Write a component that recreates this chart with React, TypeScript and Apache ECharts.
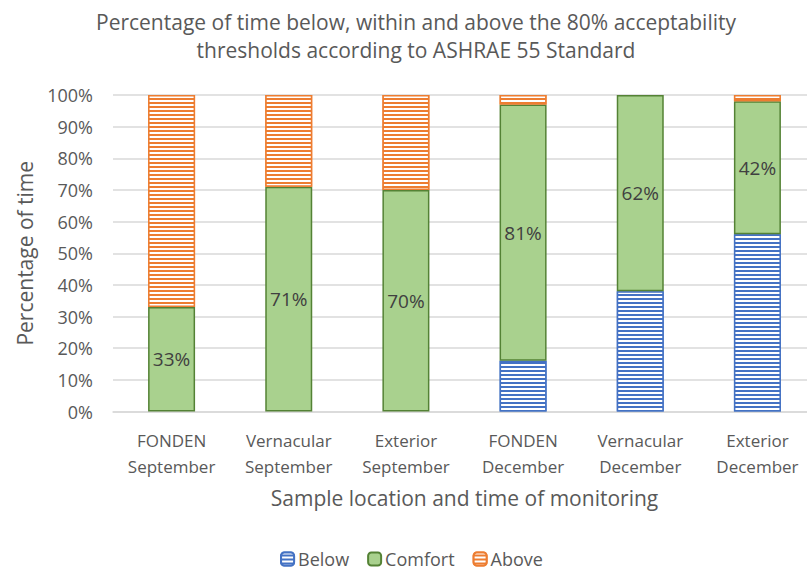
import React, { useEffect, useRef } from "react";
import * as echarts from "echarts";

// Sampling sites and monitoring periods
const categories = [
  "FONDEN\nSeptember",
  "Vernacular\nSeptember",
  "Exterior\nSeptember",
  "FONDEN\nDecember",
  "Vernacular\nDecember",
  "Exterior\nDecember",
];

// Share of time (%) below, within and above the 80% acceptability limits
const below = [null, null, null, 16, 38, 56];
const comfort = [33, 71, 70, 81, 62, 42];
const above = [67, 29, 30, 3, null, 2];

const yTicks = [0, 10, 20, 30, 40, 50, 60, 70, 80, 90, 100];

const FONT = "'Open Sans', sans-serif";
const TEXT = "#595959";

// Horizontal white stripes laid over the base fill
const stripes = {
  symbol: "rect",
  symbolSize: 1,
  color: "#ffffff",
  dashArrayX: [20, 0],
  dashArrayY: [2, 2],
  rotation: 0,
};

export default function App() {
  const ref = useRef<HTMLDivElement>(null);

  useEffect(() => {
    if (!ref.current) return;
    const chart = echarts.init(ref.current, undefined, { renderer: "svg" });
    chart.setOption({
      animation: false,
      backgroundColor: "#ffffff",
      textStyle: { fontFamily: FONT },
      title: {
        text: "Percentage of time below, within and above the 80% acceptability\nthresholds according to ASHRAE 55 Standard",
        left: 411,
        top: 3,
        textAlign: "center",
        textStyle: {
          fontFamily: FONT,
          fontSize: 21,
          fontWeight: "normal",
          color: TEXT,
          lineHeight: 28,
        },
      },
      legend: {
        top: 550,
        left: "center",
        padding: 0,
        itemWidth: 13,
        itemHeight: 13,
        itemGap: 18,
        textStyle: { fontFamily: FONT, fontSize: 18, color: TEXT, padding: [0, 0, 0, -1] },
        data: ["Below", "Comfort", "Above"],
      },
      grid: { left: 113, right: 7, top: 95, bottom: 161.5 },
      xAxis: {
        type: "category",
        data: categories,
        name: "Sample location and time of monitoring",
        nameLocation: "middle",
        nameGap: 76,
        nameTextStyle: { fontFamily: FONT, fontSize: 21, color: TEXT },
        axisLine: { lineStyle: { color: "#d9d9d9", width: 1.5 } },
        axisTick: { show: false },
        axisLabel: {
          interval: 0,
          fontFamily: FONT,
          fontSize: 17,
          color: TEXT,
          lineHeight: 26,
          margin: 16,
        },
      },
      yAxis: {
        type: "value",
        min: yTicks[0],
        max: yTicks[yTicks.length - 1],
        interval: 10,
        name: "Percentage of time",
        nameLocation: "middle",
        nameGap: 78,
        nameTextStyle: { fontFamily: FONT, fontSize: 21, color: TEXT },
        axisLabel: {
          fontFamily: FONT,
          fontSize: 18,
          color: TEXT,
          margin: 20,
          formatter: "{value}%",
        },
        splitLine: { lineStyle: { color: "#d9d9d9", width: 1.5 } },
        axisLine: { show: false },
        axisTick: { show: false },
      },
      series: [
        {
          name: "Below",
          type: "bar",
          stack: "total",
          barWidth: 47,
          data: below,
          itemStyle: {
            color: "#4472c4",
            borderColor: "#4472c4",
            borderWidth: 1.5,
            decal: stripes,
          },
        },
        {
          name: "Comfort",
          type: "bar",
          stack: "total",
          barWidth: 47,
          data: comfort,
          itemStyle: {
            color: "#a9d18e",
            borderColor: "#548235",
            borderWidth: 1.5,
          },
          label: {
            show: true,
            position: "inside",
            formatter: "{c}%",
            fontFamily: FONT,
            fontSize: 19,
            color: "#404040",
          },
        },
        {
          name: "Above",
          type: "bar",
          stack: "total",
          barWidth: 47,
          data: above,
          itemStyle: {
            color: "#ed7d31",
            borderColor: "#ed7d31",
            borderWidth: 1.5,
            decal: stripes,
          },
        },
      ],
    });
    return () => chart.dispose();
  }, []);

  return (
    <div
      style={{
        position: "fixed",
        left: 0,
        top: 0,
        width: 807,
        height: 573,
        overflow: "hidden",
        background: "#fff",
      }}
    >
      <div ref={ref} style={{ width: 823, height: 573 }} />
    </div>
  );
}
